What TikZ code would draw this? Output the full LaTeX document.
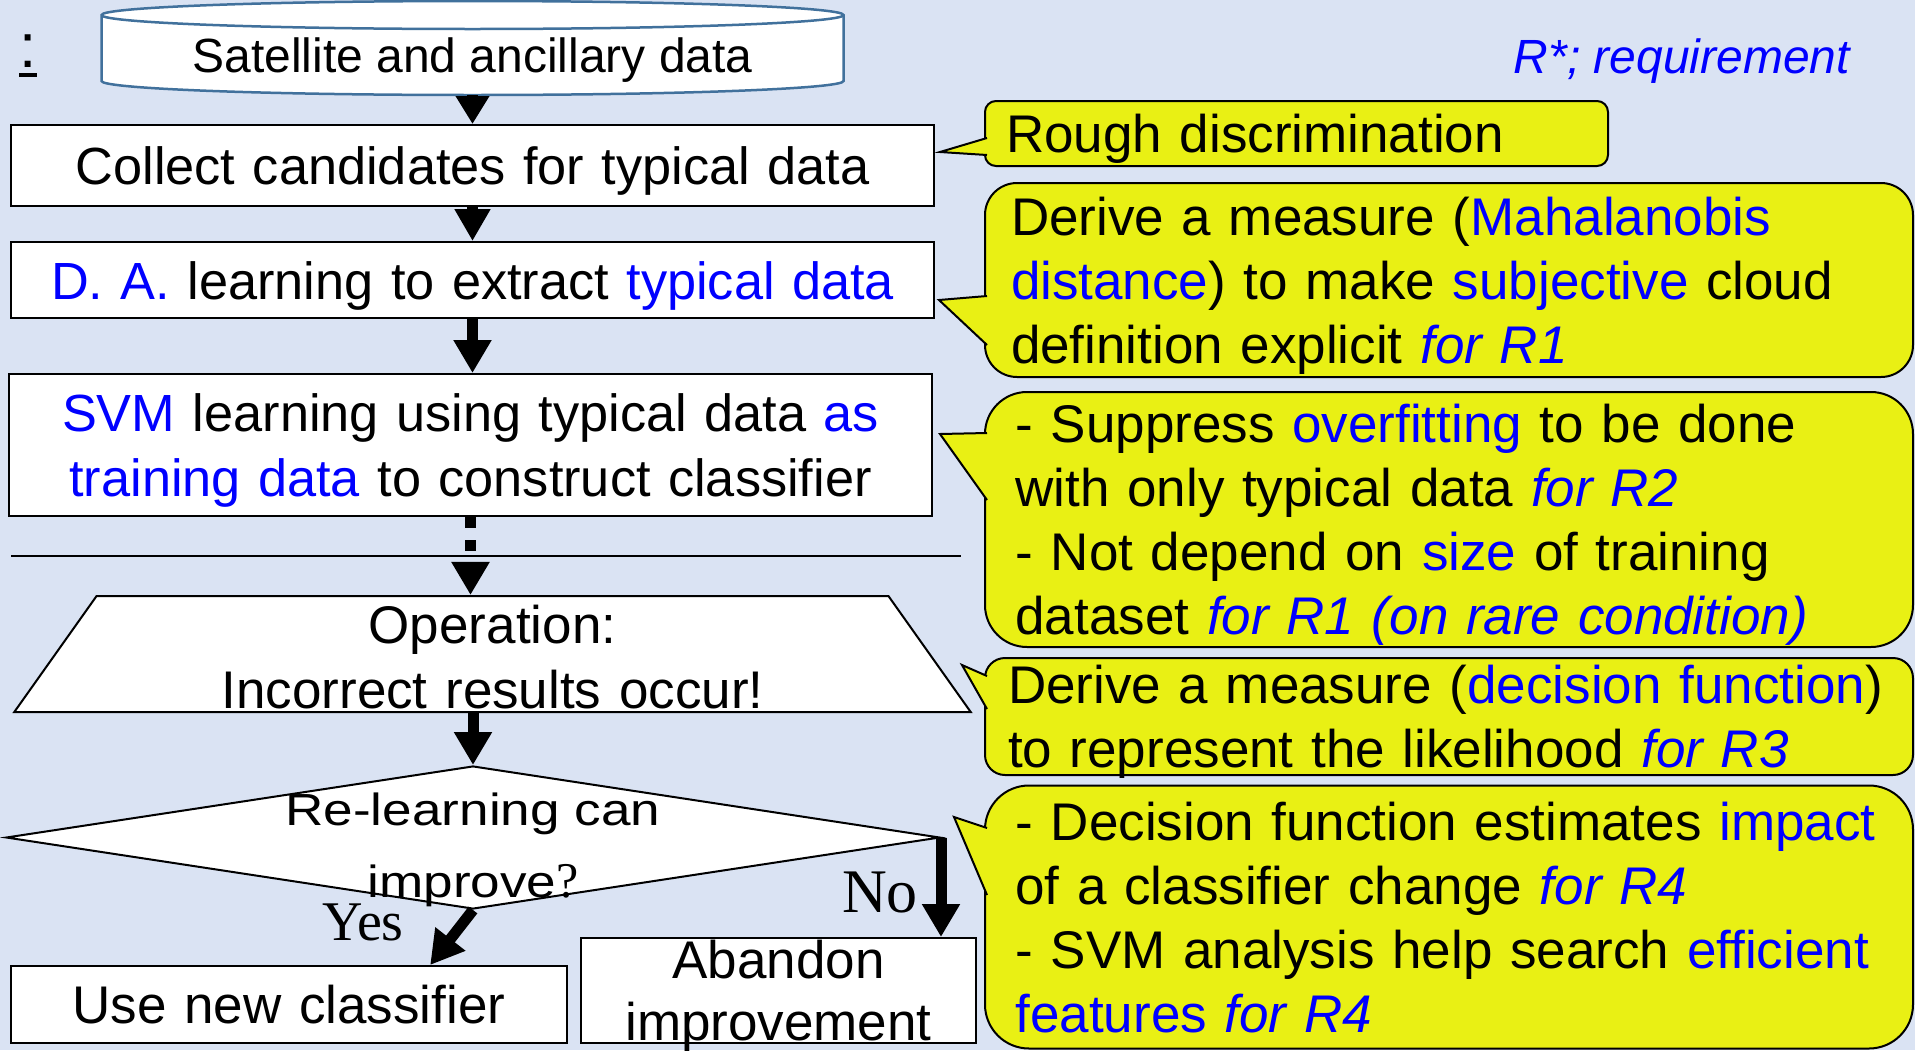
\documentclass[tikz,border=0pt]{standalone}
\usepackage{fontspec}
\setmainfont{Liberation Sans}
\newfontfamily\serifpart{Liberation Serif}
\newfontfamily\widesans[FakeStretch=1.18]{Liberation Sans}
\usetikzlibrary{arrows.meta}
\usetikzlibrary{shapes.geometric}
\usetikzlibrary{calc}

\definecolor{bgblue}{RGB}{218,227,243}
\definecolor{notefill}{RGB}{233,240,20}
\definecolor{kwblue}{RGB}{0,0,255}
\definecolor{cylline}{RGB}{65,113,156}
\newcommand{\txt}{\fontsize{53}{64}\selectfont}
\newcommand{\kw}[1]{\textcolor{kwblue}{#1}}
\newcommand{\req}[1]{\textcolor{kwblue}{\itshape #1}}

\begin{document}
\begin{tikzpicture}[x=1pt, y=-1pt,
    box/.style={draw, line width=2pt, fill=white, inner sep=0pt, font=\txt, align=center, text height=38pt, text depth=0pt},
    note/.style={draw, line width=2pt, fill=notefill, inner sep=0pt, font=\txt, align=left, text height=38pt, minimum width=928pt},
    pointer/.style={draw, line width=2pt, fill=notefill},
    flow/.style={line width=11pt, -{Triangle[length=33pt, width=36pt]}}]
    % Page and background
    \useasboundingbox (0,0) rectangle (1915,1050);
    \fill[bgblue] (0,0) rectangle (1915,1050);

    % Input data (cylinder)
    \filldraw[draw=cylline, fill=white, line width=2.5pt] (101.5,15) -- (101.5,81)
        arc[start angle=180, end angle=0, x radius=371, y radius=14] -- (843.5,15)
        arc[start angle=0, end angle=-180, x radius=371, y radius=14] -- cycle;
    \draw[cylline, line width=2.5pt] (101.5,15) arc[start angle=180, end angle=0, x radius=371, y radius=14];
    \node[inner sep=0pt, minimum width=742pt, minimum height=94pt, text height=48pt, text depth=0pt,
        font=\fontsize{48}{58}\selectfont] (sat) at (472.5,48) {Satellite and ancillary data};

    \node[anchor=base, font=\fontsize{62}{70}\selectfont] (colon) at (28,67) {\vtop{\hbox{:}\kern6pt\hrule height 4pt}};
    \node[anchor=base, font=\fontsize{48}{58}\selectfont\itshape, text=kwblue] (reqnote) at (1682,73) {R*; requirement};

    % Learning steps
    \node[box, text width=880pt, minimum width=923pt, minimum height=81pt, font=\fontsize{52.3}{64}\selectfont]
        (collect) at (472.5,165.5) {Collect candidates for typical data};
    \node[box, text width=880pt, minimum width=923pt, minimum height=76pt, font=\fontsize{52.3}{64}\selectfont]
        (da) at (472.5,280) {\kw{D. A.} learning to extract \kw{typical data}};
    \node[box, text width=880pt, minimum width=923pt, minimum height=142pt, text depth=65pt,
        font=\fontsize{52.3}{65}\selectfont] (svm) at (470.5,445)
        {\kw{SVM} learning using typical data \kw{as}\\\kw{training data} to construct classifier};

    \draw[line width=2.5pt] (11,556) -- (961,556);

    % Operation
    \node[trapezium, draw, fill=white, line width=2pt, trapezium left angle=60, trapezium right angle=60,
        trapezium stretches=true, minimum width=961pt, minimum height=116pt, inner sep=0pt,
        font=\fontsize{53}{65}\selectfont, align=center, text width=600pt, text height=43pt, text depth=65pt]
        (op) at (492.5,654) {Operation:\\Incorrect results occur!};

    \node[diamond, draw, fill=white, line width=2pt, minimum width=934pt, minimum height=143pt, inner sep=0pt]
        (decide) at (473,837.5) {};
    \node[font=\widesans\fontsize{45}{72}\selectfont, align=center, text width=560pt, text height=33pt,
        text depth=72pt, inner sep=0pt] (decidetext) at (473,844.5)
        {Re-learning can\\improve{\serifpart\fontsize{50}{72}\selectfont ?}};

    \node[box, text width=500pt, minimum width=556pt, minimum height=77pt] (use) at (289,1004.5)
        {Use new classifier};
    \node[box, text width=380pt, minimum width=395pt, minimum height=105pt, text depth=62pt,
        font=\fontsize{53}{62}\selectfont] (abandon) at (778.5,990.5) {Abandon\\improvement};

    \node[anchor=base, font=\serifpart\fontsize{56}{60}\selectfont] (yes) at (363,940) {Yes};
    \node[anchor=base, font=\serifpart\fontsize{62}{66}\selectfont] (no) at (880,912) {No};

    % Flow arrows
    \draw[flow, -{Triangle[length=28pt, width=32pt]}] (sat.south) -- (collect.north);
    \draw[flow, -{Triangle[length=32pt, width=34pt]}] (collect.south) -- (da.north);
    \draw[flow] (da.south) -- (da.south |- svm.north);
    \draw[flow, dash pattern=on 11pt off 12pt] (svm.south) -- (svm.south |- op.north);
    \draw[flow] (decide.north |- op.south) -- (decide.north);
    \draw[flow] (decide.south) -- ($(use.north west)!0.753!(use.north east)$);
    \draw[flow] (decide.east) -- (decide.east |- abandon.north);

    % Callouts
    \node[note, text width=581pt, minimum width=623pt, minimum height=65pt, rounded corners=11pt,
        text depth=0pt] (rough) at (1296.5,133.5) {Rough discrimination};
    \filldraw[pointer] (987,138) -- (940,152) -- (987,155);

    \node[note, text width=876pt, minimum height=194pt, rounded corners=32pt, text depth=128pt]
        (mahal) at (1449,280)
        {Derive a measure (\kw{Mahalanobis}\\\kw{distance}) to make \kw{subjective} cloud\\definition explicit \req{for R1}};
    \filldraw[pointer] (987,296) -- (939,300) -- (987,345);

    \node[note, text width=867pt, minimum height=255pt, rounded corners=42pt, text depth=192pt]
        (overfit) at (1449,519.5)
        {- Suppress \kw{overfitting} to be done\\with only typical data \req{for R2}\\- Not depend on \kw{size} of training\\dataset \req{for R1 (on rare condition)}};
    \filldraw[pointer] (987,433) -- (940,434) -- (987,500);

    \node[note, text width=882pt, minimum height=117pt, rounded corners=20pt, text depth=64pt]
        (decfun) at (1449,716.5)
        {Derive a measure (\kw{decision function})\\to represent the likelihood \req{for R3}};
    \filldraw[pointer] (987,676) -- (962,665) -- (987,709);

    \node[note, text width=867pt, minimum height=263pt, rounded corners=44pt, text depth=192pt]
        (impact) at (1449,917)
        {- Decision function estimates \kw{impact}\\of a classifier change \req{for R4}\\- SVM analysis help search \kw{efficient}\\\kw{features} \req{for R4}};
    \filldraw[pointer] (987,828) -- (954,817) -- (987,895);
\end{tikzpicture}
\end{document}
